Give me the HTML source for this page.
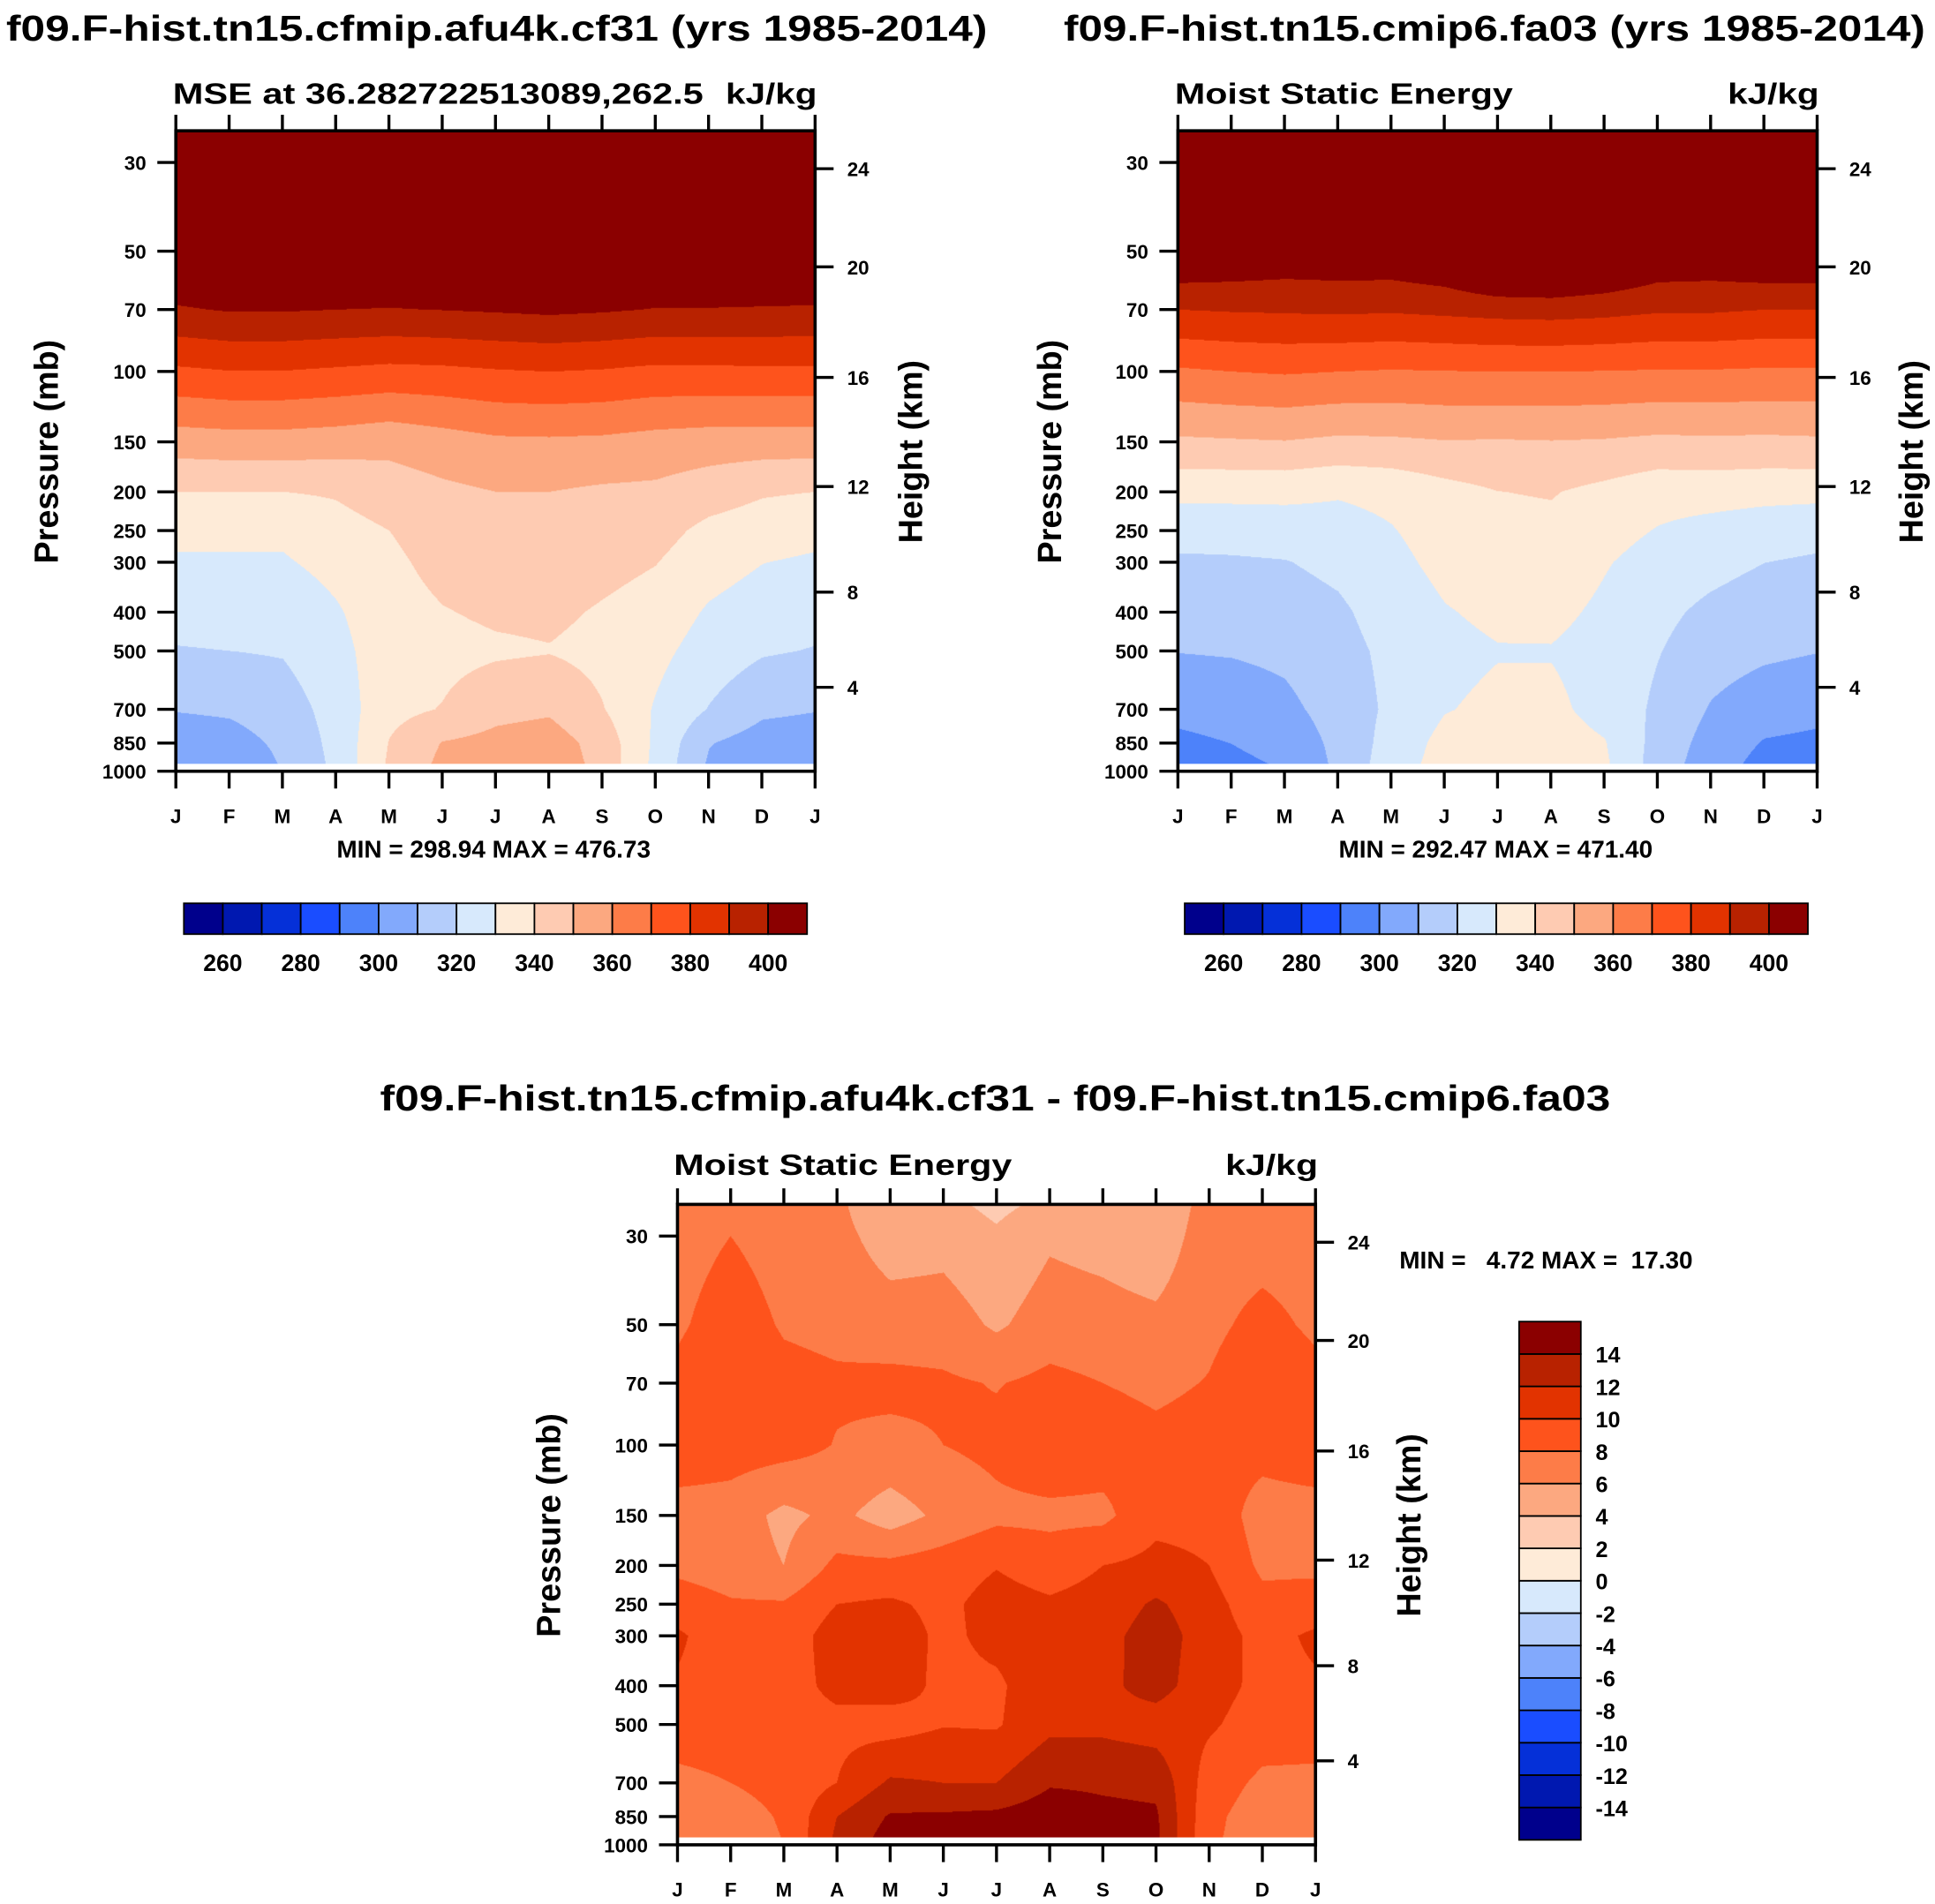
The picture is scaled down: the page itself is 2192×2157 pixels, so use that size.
<!DOCTYPE html>
<html><head><meta charset="utf-8">
<style>
html,body{margin:0;padding:0;background:#fff;}
#root{position:relative;width:1568px;height:1543px;transform:scale(1.39796);transform-origin:0 0;}
canvas{position:absolute;}
svg{position:absolute;left:0;top:0;}
text{font-family:"Liberation Sans",Arial,sans-serif;font-weight:bold;fill:#000;}
</style></head>
<body>
<div id="root">
<canvas id="cA"></canvas>
<canvas id="cB"></canvas>
<canvas id="cC"></canvas>
<svg id="svg" width="1568" height="1543" viewBox="0 0 1568 1543">
<text x="5" y="33" font-size="29" textLength="795" lengthAdjust="spacingAndGlyphs">f09.F-hist.tn15.cfmip.afu4k.cf31 (yrs 1985-2014)</text>
<text x="862" y="33" font-size="29" textLength="698" lengthAdjust="spacingAndGlyphs">f09.F-hist.tn15.cmip6.fa03 (yrs 1985-2014)</text>
<text x="140" y="84" font-size="24" textLength="430" lengthAdjust="spacingAndGlyphs">MSE at 36.282722513089,262.5</text>
<text x="588" y="84" font-size="24" textLength="74" lengthAdjust="spacingAndGlyphs">kJ/kg</text>
<text x="952" y="84" font-size="24" textLength="274" lengthAdjust="spacingAndGlyphs">Moist Static Energy</text>
<text x="1400" y="84" font-size="24" textLength="74" lengthAdjust="spacingAndGlyphs">kJ/kg</text>
<text x="400" y="695" font-size="20" text-anchor="middle">MIN = 298.94 MAX = 476.73</text>
<text x="1212" y="695" font-size="20" text-anchor="middle">MIN = 292.47 MAX = 471.40</text>
<text x="308" y="900" font-size="29" textLength="997" lengthAdjust="spacingAndGlyphs">f09.F-hist.tn15.cfmip.afu4k.cf31 - f09.F-hist.tn15.cmip6.fa03</text>
<text x="546" y="952" font-size="24" textLength="274" lengthAdjust="spacingAndGlyphs">Moist Static Energy</text>
<text x="993" y="952" font-size="24" textLength="75" lengthAdjust="spacingAndGlyphs">kJ/kg</text>
<text x="1134" y="1028" font-size="20" xml:space="preserve">MIN =   4.72 MAX =  17.30</text>
<text transform="translate(47,366) rotate(-90)" font-size="27" text-anchor="middle">Pressure (mb)</text>
<text transform="translate(747,366) rotate(-90)" font-size="27" text-anchor="middle">Height (km)</text>
<text transform="translate(860,366) rotate(-90)" font-size="27" text-anchor="middle">Pressure (mb)</text>
<text transform="translate(1558,366) rotate(-90)" font-size="27" text-anchor="middle">Height (km)</text>
<text transform="translate(454,1236) rotate(-90)" font-size="27" text-anchor="middle">Pressure (mb)</text>
<text transform="translate(1151,1236) rotate(-90)" font-size="27" text-anchor="middle">Height (km)</text>
</svg>
</div>
<script>
// ---------- data ----------
const pLevels = [25,30,50,70,100,150,200,250,300,400,500,700,850,1000];
const months = ['J','F','M','A','M','J','J','A','S','O','N','D','J'];
const pressTicks = [30,50,70,100,150,200,250,300,400,500,700,850,1000];
const heightTickKm = [4,8,12,16,20,24];
const heightTickP = [616.6,356.5,194.0,103.5,54.75,31.1];
const colors = ['#00008c','#0018b0','#0530d8','#1a4dff','#4d82fa','#82a9fc','#b4cdfb','#d7e9fc','#feebd8','#fecbb2','#fca880','#fd7c48','#fe531c','#e23300','#b82200','#8b0000'];
const levelsMSE = [260,270,280,290,300,310,320,330,340,350,360,370,380,390,400];
const levelsDiff = [-14,-12,-10,-8,-6,-4,-2,0,2,4,6,8,10,12,14];
const mseLabels = [260,280,300,320,340,360,380,400];

const mseA = [
[450,450,450,450,450,450,450,450,450,450,450,450,450],
[435,435,435,435,435,435,435,435,435,435,435,435,435],
[412,412,412,412,412,412,412,412,412,412,412,412,412],
[399,400.7,400.7,400,399.6,400.2,401,401.9,401,399.6,399.6,399.3,399],
[378.2,379.7,379.7,378.5,377.2,377.8,379.2,380,379.2,377.6,377.9,378,378.2],
[354.9,355.8,355.8,354.8,353,355.6,358.2,358.5,358,356.3,355.2,355,354.9],
[340,340,340,341,345,348,350,350,348.5,348,344.5,341,340],
[333,332,332,336.4,340,345,347,347.5,345.5,343.5,337.5,335,333],
[328.5,329,329,333,338,343,345,345.5,343,340.3,334.3,330.2,328.5],
[323,323.5,323.5,329,336,339.5,341.5,342,339,336,328.8,325,323],
[319.5,320,320.8,327,335.5,337,338.5,339.5,337,332.8,325.5,321,319.5],
[310.5,311.5,315,324,337,340.5,347,348.5,340.5,329,319.5,312,310.5],
[304.5,306,312,323,340.5,350.5,353,355,346,328,310.5,305.5,304.5],
[299,301,310.5,322,342,353,355,357,347,327,308,302,299]
];
const mseB = [
[440,440,440,440,440,440,440,440,440,440,440,440,440],
[425,425,425,425,425,425,425,425,425,425,425,425,425],
[412,410,408,408.5,408.5,412,423,424,418,410,409,412,412],
[390,390.8,391.2,391.7,391.2,392.3,393.5,394,393,391.2,391.2,390,390],
[368.6,370,370.9,370,369.3,369.7,370,370,369.7,369.3,369.3,368.7,368.6],
[348.4,349,349.6,348,348.4,349.5,349.2,349.6,349.1,347.8,348.2,347.9,348.4],
[332.8,332.8,332.8,331,332.5,336.6,339.9,340.6,337.4,333.6,333.8,333.1,332.8],
[323.5,323.8,324.5,326.3,329.5,334.1,337.3,337.8,333.3,329.5,326.9,324.8,323.5],
[318.6,318.9,319.6,322.4,327.5,332.6,335.2,335.8,330.7,326.4,323.4,320.1,318.6],
[313.9,314.3,315.5,318.3,324.5,329.4,331.9,332.3,328.2,322.6,317.6,314.2,313.9],
[310.3,310.8,312.2,316.5,322.5,327.5,329.5,329.5,326.5,320.5,314.3,311.8,310.3],
[302.6,304.2,307.6,314,322,329.5,332,332,327,318,309.2,304.4,302.6],
[298,300.1,303.6,312.5,324,333,334,334,330.5,316.5,306,299.3,298],
[295,297,300,312,326,334,335,335,332,315,304,296,295]
];
const diffC = [
[7,6.5,7,6.5,4,4.5,3.5,4.5,4.5,4,7,6.5,7],
[7.2,8,7.2,6.7,5,5.3,4.3,5.7,5.3,4.6,7.2,7.3,7.2],
[7.7,9,7.8,7.5,7,7,5.7,7,6.8,6.5,7.6,8.5,7.7],
[8.5,9.8,8.6,8.3,8.5,8.3,7.9,8.5,8,7.6,8.1,9.3,8.5],
[9.5,9,8.8,7.9,7.5,8,8.5,9.5,9,8.5,8.8,8.8,9.5],
[7,7,5.5,6.5,5,6.5,7.5,7.5,7.5,9.5,9.5,7,7],
[7.5,7,6,8.5,8.5,9,9.9,9,10,10.5,10,7.6,7.5],
[9,8.2,8.2,10,10.3,9.5,10.8,10.3,10.8,12.3,10.8,8.6,9],
[10.3,8.8,8.8,11,11,9.6,10.5,11,11.3,13,11,9.4,10.3],
[9.8,9.2,9.2,10.5,10.8,9.6,9.7,11.2,11.5,12.8,10.8,9.5,9.8],
[9,9,9.3,9.5,9.2,9.9,9.8,11.5,11.5,11,10.3,9,9],
[7.5,8,8.6,10,12.3,12,12,13.8,13.7,13.5,9,7.6,7.5],
[7,7.2,8.2,12,14.2,14.3,14.5,15.2,14.5,14.3,8.5,7,7],
[7,7,8,12.5,15,15,15,15.5,15,14.5,8.3,7,7]
];

// ---------- geometry ----------
const P_TOP = 25, RES = 1.4;
const plots = [
  {id:'cA', key:'cf31', x0:142.5, y0:106, w:518, h:519, grid:mseA, levels:mseLabels.length?levelsMSE:levelsMSE},
  {id:'cB', key:'fa03', x0:954.5, y0:106, w:518, h:519, grid:mseB, levels:levelsMSE},
  {id:'cC', key:'difference', x0:549, y0:976, w:517, h:519, grid:diffC, levels:levelsDiff}
];
function xScale(pl, m){ return pl.x0 + m * pl.w / 12; }
function yScale(pl, p){ return pl.y0 + pl.h - (3 - Math.log10(p)) / (3 - Math.log10(P_TOP)) * pl.h; }
function colorFor(levels, v){ let k=0; while(k<levels.length && v>=levels[k]) k++; return colors[k]; }
const logP = pLevels.map(p=>Math.log10(p));
function sample(grid, m, lp){
  let r=0; while(r<logP.length-2 && lp>logP[r+1]) r++;
  let t=(lp-logP[r])/(logP[r+1]-logP[r]); t=Math.max(0,Math.min(1,t));
  let c=Math.min(11,Math.floor(m)); let s=m-c; s=Math.max(0,Math.min(1,s));
  const a=grid[r][c], b=grid[r][c+1], d=grid[r+1][c], e=grid[r+1][c+1];
  return (a*(1-s)+b*s)*(1-t)+(d*(1-s)+e*s)*t;
}
const rgbCache={};
function rgb(hex){ if(!rgbCache[hex]) rgbCache[hex]=[parseInt(hex.substr(1,2),16),parseInt(hex.substr(3,2),16),parseInt(hex.substr(5,2),16)]; return rgbCache[hex]; }

const NS='http://www.w3.org/2000/svg';
const svg=document.getElementById('svg');
function mk(tag, attrs, parent){ const e=document.createElementNS(NS,tag); for(const k in attrs) e.setAttribute(k,attrs[k]); (parent||svg).appendChild(e); return e; }

plots.forEach(pl=>{
  const cv=document.getElementById(pl.id);
  cv.style.left=pl.x0+'px'; cv.style.top=pl.y0+'px';
  cv.style.width=pl.w+'px'; cv.style.height=pl.h+'px';
  const W=Math.round(pl.w*RES), H=Math.round(pl.h*RES);
  cv.width=W; cv.height=H;
  const ctx=cv.getContext('2d'); const img=ctx.createImageData(W,H);
  const lpTop=Math.log10(P_TOP);
  for(let j=0;j<H;j++){
    const yy=(j+0.5)/H; const lp=lpTop + yy*(3-lpTop);
    for(let i=0;i<W;i++){
      const m=(i+0.5)/W*12;
      const c=rgb(colorFor(pl.levels, sample(pl.grid,m,lp)));
      const o=(j*W+i)*4; img.data[o]=c[0]; img.data[o+1]=c[1]; img.data[o+2]=c[2]; img.data[o+3]=255;
    }
  }
  ctx.putImageData(img,0,0);
  // missing-data strip at surface
  const strip=mk('rect',{x:pl.x0,y:pl.y0+pl.h-6,width:pl.w,height:6,fill:'#fff'});
  
  
  // frame
  const fr=mk('rect',{x:pl.x0,y:pl.y0,width:pl.w,height:pl.h,fill:'none',stroke:'#000','stroke-width':2.6});
  
  
  // month ticks & labels
  months.forEach((mn,i)=>{
    const x=xScale(pl,i);
    const t1=mk('line',{x1:x,x2:x,y1:pl.y0,y2:pl.y0-13,stroke:'#000','stroke-width':2.4});
    
    
    const t2=mk('line',{x1:x,x2:x,y1:pl.y0+pl.h,y2:pl.y0+pl.h+14,stroke:'#000','stroke-width':2.4});
    
    
    const lb=mk('text',{x:x,y:pl.y0+pl.h+42,'font-size':16,'text-anchor':'middle'});
    lb.textContent=mn;
    
    
  });
  pressTicks.forEach(p=>{
    const y=yScale(pl,p);
    const t=mk('line',{x1:pl.x0,x2:pl.x0-15,y1:y,y2:y,stroke:'#000','stroke-width':2.4});
    
    
    const lb=mk('text',{x:pl.x0-24,y:y+6,'font-size':16,'text-anchor':'end'});
    lb.textContent=p;
    
    
  });
  heightTickP.forEach((p,i)=>{
    const y=yScale(pl,p); const x=pl.x0+pl.w;
    const t=mk('line',{x1:x,x2:x+15,y1:y,y2:y,stroke:'#000','stroke-width':2.4});
    
    
    const lb=mk('text',{x:x+26,y:y+6,'font-size':16});
    lb.textContent=heightTickKm[i];
    
    
  });
});

// horizontal colorbars for the two MSE panels
[{x0:149,key:'cf31'},{x0:960,key:'fa03'}].forEach(cb=>{
  const bw=505/colors.length, y=732, h=25;
  colors.forEach((c,k)=>{
    const r=mk('rect',{x:cb.x0+k*bw,y:y,width:bw,height:h,fill:c,stroke:'#000','stroke-width':1.3});
    
    
  });
  mseLabels.forEach(v=>{
    const k=levelsMSE.indexOf(v)+1;
    const t=mk('text',{x:cb.x0+k*bw,y:787,'font-size':19,'text-anchor':'middle'});
    t.textContent=v;
    
    
  });
});
// vertical colorbar for difference
(function(){
  const x=1231, y0=1071, w=50, bh=(1491-1071)/colors.length;
  colors.forEach((c,k)=>{
    const r=mk('rect',{x:x,y:y0+(colors.length-1-k)*bh,width:w,height:bh,fill:c,stroke:'#000','stroke-width':1.3});
    
    
  });
  levelsDiff.forEach((v,i)=>{
    const yb=y0+(colors.length-1-i)*bh;
    const t=mk('text',{x:x+w+12,y:yb+7,'font-size':18});
    t.textContent=v;
    
    
  });
})();
</script>
</body></html>
